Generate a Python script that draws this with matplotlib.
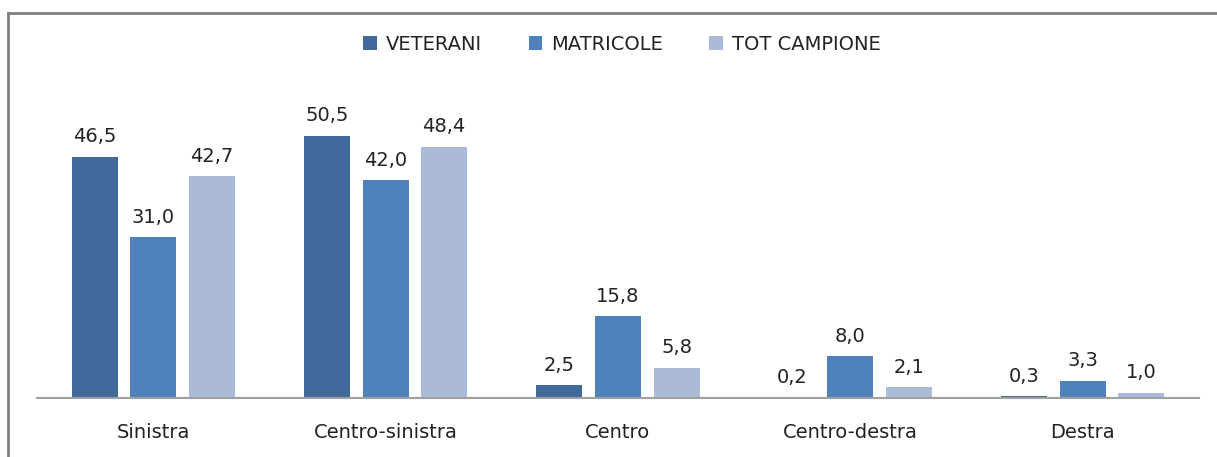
import matplotlib
matplotlib.use("Agg")
import matplotlib.pyplot as plt
from matplotlib.lines import Line2D
import numpy as np

categories = ["Sinistra", "Centro-sinistra", "Centro", "Centro-destra", "Destra"]
series_names = ["VETERANI", "MATRICOLE", "TOT CAMPIONE"]
veterani = [46.5, 50.5, 2.5, 0.2, 0.3]
matricole = [31.0, 42.0, 15.8, 8.0, 3.3]
tot_campione = [42.7, 48.4, 5.8, 2.1, 1.0]
colors = ["#41699C", "#4F81BD", "#AABAD7"]

W, H = 1217, 457
fig = plt.figure(figsize=(W / 100, H / 100), dpi=100)
scale = 5.19  # px per unit
ymax = 60
top_px = 398 - ymax * scale
ax = fig.add_axes([37 / W, 1 - 398 / H, (1199 - 37) / W, (398 - top_px) / H])

FS = 14
x = np.arange(len(categories))
width = 0.198
step = 0.252
data = [veterani, matricole, tot_campione]
for i, (vals, name, c) in enumerate(zip(data, series_names, colors)):
    bars = ax.bar(x + (i - 1) * step, vals, width, color=c, label=name)
    for b, v in zip(bars, vals):
        ax.annotate(f"{v:.1f}".replace(".", ","),
                    (b.get_x() + b.get_width() / 2, b.get_height()),
                    xytext=(0, 7.5), textcoords="offset points",
                    ha="center", va="bottom", fontsize=FS, color="#222222")

ax.set_xlim(-0.5, len(categories) - 0.5)
ax.set_ylim(0, ymax)
ax.set_xticks(x)
ax.set_xticklabels(categories, fontsize=FS, color="#222222")
ax.tick_params(axis="x", length=0, pad=18)
ax.set_yticks([])
for s in ["top", "right", "left"]:
    ax.spines[s].set_visible(False)
ax.spines["bottom"].set_color("#A0A0A0")
ax.spines["bottom"].set_linewidth(1.5)

leg = fig.legend(loc="center", bbox_to_anchor=(622 / W, 1 - 44 / H), ncol=3,
                 frameon=False, fontsize=FS, handlelength=0.7, handleheight=0.7,
                 handletextpad=0.45, columnspacing=2.4)
for t in leg.get_texts():
    t.set_color("#222222")

# outer frame (top and left edges visible)
fig.add_artist(Line2D([8 / W, 1.0], [1 - 13 / H, 1 - 13 / H], color="#808080", lw=2, transform=fig.transFigure))
fig.add_artist(Line2D([8 / W, 8 / W], [0, 1 - 13 / H], color="#808080", lw=2, transform=fig.transFigure))

fig.savefig("out.png", dpi=100)
